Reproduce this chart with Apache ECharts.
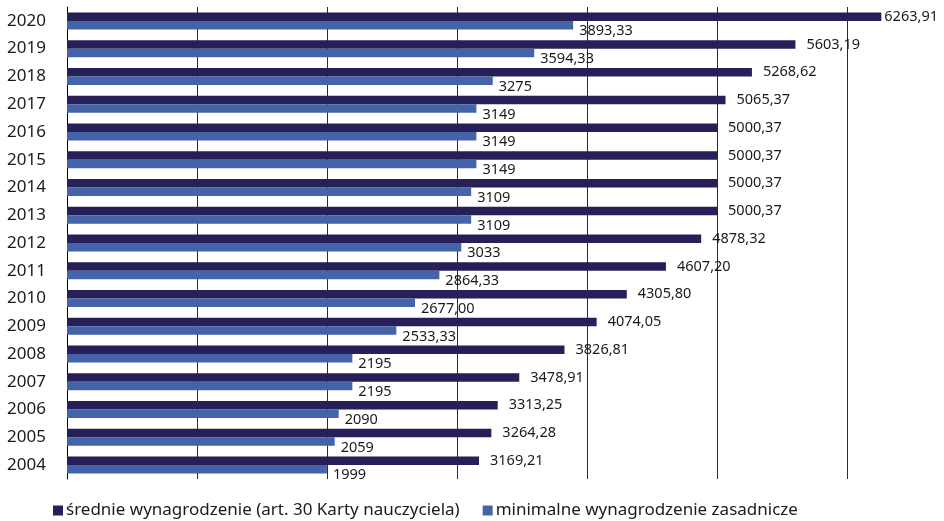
<!DOCTYPE html>
<html>
<head>
<meta charset="utf-8">
<script src="https://cdn.jsdelivr.net/npm/echarts@6/dist/echarts.min.js"></script>
<style>
  html, body { margin: 0; padding: 0; background: #fff; }
  #chart { width: 944px; height: 521px; }
</style>
</head>
<body>
<div id="chart"></div>
<script>
const years = ['2004', '2005', '2006', '2007', '2008', '2009', '2010', '2011', '2012',
  '2013', '2014', '2015', '2016', '2017', '2018', '2019', '2020']

const sredniePay = [3169.21, 3264.28, 3313.25, 3478.91, 3826.81, 4074.05, 4305.80, 4607.20, 4878.32,
  5000.37, 5000.37, 5000.37, 5000.37, 5065.37, 5268.62, 5603.19, 6263.91]
const sredniLabels = ['3169,21', '3264,28', '3313,25', '3478,91', '3826,81', '4074,05', '4305,80', '4607,20', '4878,32',
  '5000,37', '5000,37', '5000,37', '5000,37', '5065,37', '5268,62', '5603,19', '6263,91']

const minimalPay = [1999, 2059, 2090, 2195, 2195, 2533.33, 2677.00, 2864.33, 3033,
  3109, 3109, 3149, 3149, 3149, 3275, 3594.33, 3893.33]
const minimalLabels = ['1999', '2059', '2090', '2195', '2195', '2533,33', '2677,00', '2864,33', '3033',
  '3109', '3109', '3149', '3149', '3149', '3275', '3594,33', '3893,33']

const chart = echarts.init(document.getElementById('chart'))

const font = '"Noto Sans", "Open Sans", sans-serif'

// the longest bar's label sits closer so it stays inside the picture
const lastIdx = sredniePay.length - 1
const sredniData = sredniePay.map((v, i) => (i === lastIdx ? { value: v, label: { distance: 3 } } : v))

const option = {
  animation: false,
  textStyle: { fontFamily: font },
  legend: {
    left: 48,
    top: 497,
    itemWidth: 10,
    itemHeight: 10,
    itemGap: 23,
    icon: 'rect',
    textStyle: { fontSize: 17, color: '#1a1a1a', fontFamily: font, padding: [0, 0, 0, -2] },
    data: ['średnie wynagrodzenie (art. 30 Karty nauczyciela)', 'minimalne wynagrodzenie zasadnicze'],
  },
  grid: {
    left: 67,
    right: 0,
    top: 7,
    bottom: 42,
  },
  xAxis: {
    type: 'value',
    min: 0,
    max: 6746,
    interval: 1000,
    axisLabel: { show: false },
    axisLine: { show: false },
    axisTick: { show: false },
    splitLine: { show: true, lineStyle: { color: '#2b2b2b', width: 1 } },
  },
  yAxis: {
    type: 'category',
    data: years,
    axisLine: { show: true, lineStyle: { color: '#000', width: 1 } },
    axisTick: { show: false },
    axisLabel: { fontSize: 17, color: '#1a1a1a', margin: 21, fontFamily: font },
  },
  series: [
    {
      name: 'średnie wynagrodzenie (art. 30 Karty nauczyciela)',
      type: 'bar',
      data: sredniData,
      barWidth: 8.5,
      barGap: 0,
      itemStyle: { color: '#271f57' },
      label: {
        show: true,
        position: 'right',
        distance: 11,
        fontSize: 14.5,
        color: '#1a1a1a',
        fontFamily: font,
        formatter: (p) => sredniLabels[p.dataIndex],
      },
    },
    {
      name: 'minimalne wynagrodzenie zasadnicze',
      type: 'bar',
      data: minimalPay,
      barWidth: 8.5,
      barGap: 0,
      itemStyle: { color: '#4563a9' },
      label: {
        show: true,
        position: 'right',
        distance: 6,
        offset: [0, 6],
        fontSize: 14.5,
        color: '#1a1a1a',
        fontFamily: font,
        formatter: (p) => minimalLabels[p.dataIndex],
      },
    },
  ],
}

chart.setOption(option)
</script>
</body>
</html>
